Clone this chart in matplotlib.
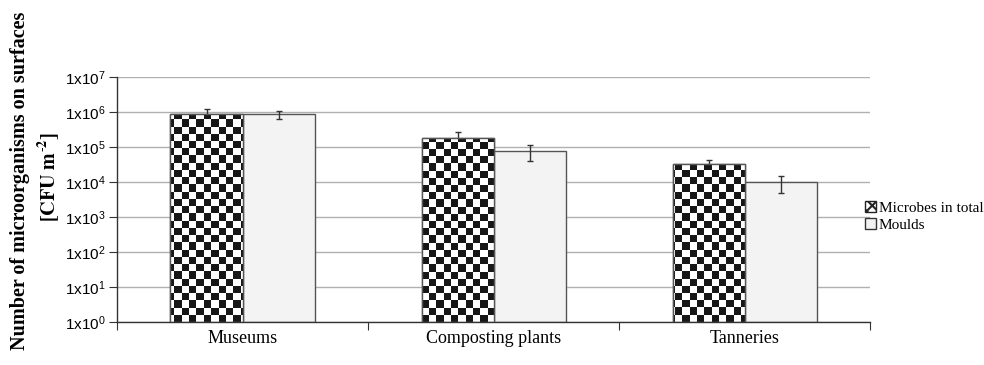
import numpy as np
import matplotlib
matplotlib.use("Agg")
import matplotlib.pyplot as plt
from matplotlib.patches import Patch

# Data
categories = ["Museums", "Composting plants", "Tanneries"]
microbes = [8.8e5, 1.8e5, 3.3e4]
microbes_err = [3.0e5, 9.0e4, 9.0e3]
moulds = [8.6e5, 7.7e4, 1.0e4]
moulds_err = [2.1e5, 3.7e4, 5.0e3]
ytick_exps = [0, 1, 2, 3, 4, 5, 6, 7]

plt.rcParams["mathtext.fontset"] = "custom"
plt.rcParams["mathtext.rm"] = "Liberation Sans"
plt.rcParams["mathtext.it"] = "Liberation Sans:italic"
plt.rcParams["hatch.linewidth"] = 1.5

fig = plt.figure(figsize=(9.84, 3.65), dpi=100)
ax = fig.add_axes([0.1189, 0.1178, 0.7655, 0.6712])

x = np.arange(len(categories))
width = 0.287

# error bars for the microbes sit behind the checkered bars
ax.errorbar(x - width / 2, microbes, yerr=microbes_err, fmt="none",
            ecolor="#333333", elinewidth=1, capsize=2.5, capthick=1, zorder=1)
mic_bars = ax.bar(x - width / 2, microbes, width, bottom=1, color="white",
                  edgecolor="#555555", linewidth=1, zorder=2)
mld_bars = ax.bar(x + width / 2, moulds, width, bottom=1, color="#f3f3f3",
                  edgecolor="#555555", linewidth=1, zorder=2)
ax.errorbar(x + width / 2, moulds, yerr=moulds_err, fmt="none",
            ecolor="#333333", elinewidth=1, capsize=2.5, capthick=1, zorder=4)

ax.set_yscale("log")
ax.set_ylim(1, 1e7)
ax.set_xlim(-0.5, len(categories) - 0.5)

# checkerboard texture clipped to each microbes bar
nx, ny = 104, 34
checker = (np.indices((ny, nx)).sum(axis=0) % 2).astype(float)
for bar in mic_bars:
    im = ax.imshow(checker, cmap="gray_r", vmin=0, vmax=1.1,
                   interpolation="nearest", extent=[0, 1, 0, 1],
                   transform=ax.transAxes, aspect="auto", zorder=2.5)
    im.set_clip_path(bar)
    outline = plt.Rectangle(bar.get_xy(), bar.get_width(), bar.get_height(),
                            fill=False, edgecolor="#555555", linewidth=1,
                            zorder=3)
    ax.add_patch(outline)

ax.set_yticks([10.0 ** e for e in ytick_exps])
ax.set_yticklabels([f"1x10$^{{{e}}}$" for e in ytick_exps],
                   fontsize=11, family="Liberation Sans")
ax.yaxis.set_minor_locator(matplotlib.ticker.NullLocator())
ax.set_xticks(np.arange(-0.5, len(categories), 1.0))
ax.set_xticklabels([])
ax.set_xticks(x, minor=True)
ax.set_xticklabels(categories, minor=True, fontsize=13,
                   family="Liberation Serif")
ax.tick_params(axis="x", which="major", length=6, direction="out",
               color="#333333")
ax.tick_params(axis="x", which="minor", length=0, pad=6)
ax.tick_params(axis="y", length=6, direction="out", color="#333333", pad=2)

ax.grid(True, axis="y", color="#b0b0b0", linewidth=1, zorder=0)
ax.set_axisbelow(True)
for side in ["top", "right"]:
    ax.spines[side].set_visible(False)
for side in ["left", "bottom"]:
    ax.spines[side].set_color("#333333")
    ax.spines[side].set_linewidth(1)
ax.set_ylim(1, 1e7)

fig.text(0.02, 0.505, "Number of microorganisms on surfaces",
         rotation=90, va="center", ha="center", fontsize=14.5,
         fontweight="bold", family="Liberation Serif")
fig.text(0.049, 0.515, r"$\mathbf{[CFU\ m^{\text{-}2}]}$", rotation=90,
         va="center", ha="center", fontsize=14.5, math_fontfamily="stix")

handles = [Patch(facecolor="white", edgecolor="#222222", hatch="xxx",
                 label="Microbes in total"),
           Patch(facecolor="#f3f3f3", edgecolor="#333333", label="Moulds")]
ax.legend(handles=handles, loc="center left", bbox_to_anchor=(0.985, 0.43),
          frameon=False, prop={"family": "Liberation Serif", "size": 11},
          handlelength=0.7, handleheight=0.7, handletextpad=0.2,
          labelspacing=0.2, borderaxespad=0)

fig.savefig("out.png", dpi=100)
